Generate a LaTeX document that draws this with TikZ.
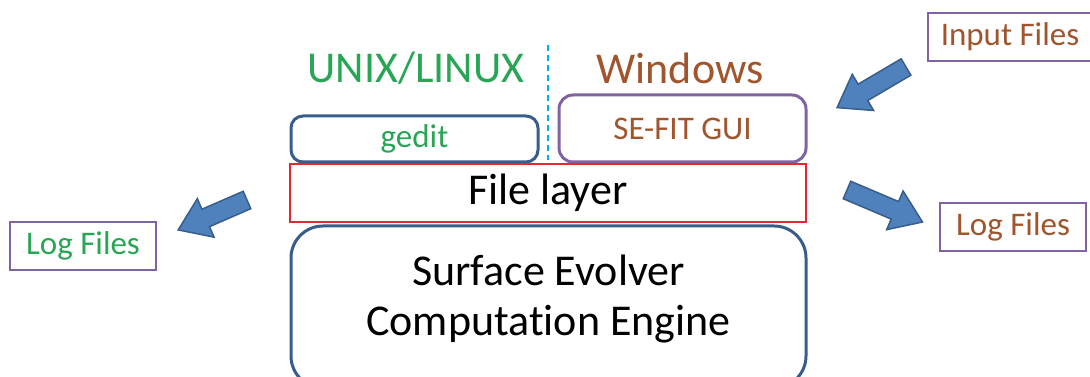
\documentclass[tikz,border=0pt]{standalone}
\usepackage{fontspec}
\setmainfont[Ligatures=NoCommon]{Carlito}
\usepackage{tikz}

\definecolor{osgreen}{RGB}{40,165,85}
\definecolor{osbrown}{RGB}{160,85,45}
\definecolor{boxblue}{RGB}{56,93,138}
\definecolor{boxpurple}{RGB}{128,100,162}
\definecolor{boxred}{RGB}{228,40,50}
\definecolor{arrowblue}{RGB}{79,129,189}
\definecolor{dashblue}{RGB}{0,176,240}

\tikzset{
  bluebox/.style={draw=boxblue, line width=3pt, rounded corners=12pt},
  filebox/.style={draw=boxpurple, line width=2pt, minimum width=146pt, minimum height=48pt},
  bigtext/.style={font=\fontsize{44}{50}\selectfont},
  smalltext/.style={font=\fontsize{33}{38}\selectfont},
  arrowbody/.style={fill=arrowblue, draw=boxblue, line width=1.5pt},
  pics/fatarrow/.style={code={
    \draw[arrowbody] (0,-9.5) -- (#1-30,-9.5) -- (#1-30,-21) -- (#1,0)
      -- (#1-30,21) -- (#1-30,9.5) -- (0,9.5) -- cycle;
  }}
}

\begin{document}
\begin{tikzpicture}[x=1pt,y=1pt]
\useasboundingbox (0,0) rectangle (1090,377);

% 操作系统
\node[bigtext, text=osgreen] (unix) at (416,309) {UNIX/LINUX};
\node[bigtext, text=osbrown] (windows) at (680,309) {Windows};
\draw[dashblue, line width=2pt, dash pattern=on 6pt off 4pt] (548,332) -- (548,217);

\node[bluebox, minimum width=247pt, minimum height=46pt, smalltext, text=osgreen] (gedit) at (414.5,238) {gedit};
\node[draw=boxpurple, line width=3pt, rounded corners=14pt, minimum width=247pt, minimum height=67pt,
      smalltext, text=osbrown] (sefit) at (682.5,248.5) {SE-FIT GUI};

\node[draw=boxred, line width=2.5pt, minimum width=516pt, minimum height=58pt, bigtext] (filelayer) at (548,184) {File layer};

\node[bluebox, rounded corners=32pt, minimum width=515pt, minimum height=162pt] (engine) at (548.5,70) {};
\node[bigtext, align=center] (enginetext) at (548.5,78) {Surface Evolver\\Computation Engine};

% 文件
\node[filebox, minimum width=164pt, smalltext, text=osbrown] (inputfiles) at (1010,340) {Input Files};
\node[filebox, smalltext, text=osbrown] (logright) at (1013,150) {Log Files};
\node[filebox, smalltext, text=osgreen] (logleft) at (83,131) {Log Files};

\pic[rotate=210.5] at (906,310) {fatarrow=80};
\pic[rotate=-23] at (847,187) {fatarrow=82};
\pic[rotate=203.5] at (247,177) {fatarrow=75};
\end{tikzpicture}
\end{document}
